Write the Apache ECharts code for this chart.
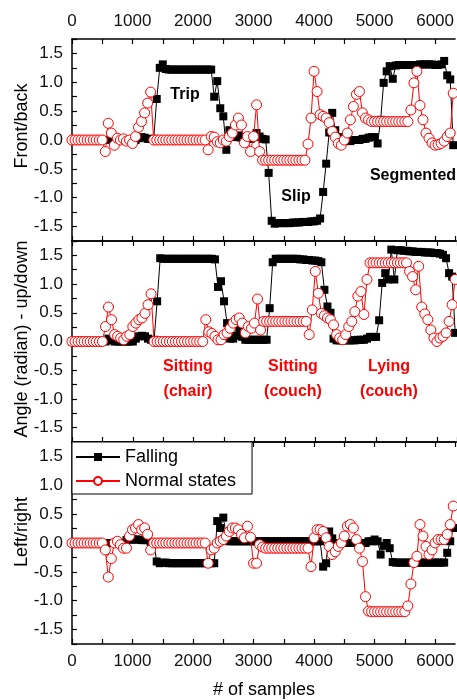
<!DOCTYPE html>
<html><head><meta charset="utf-8">
<script src="https://cdn.jsdelivr.net/npm/echarts@6/dist/echarts.min.js"></script>
<style>html,body{margin:0;padding:0;background:#fff}#c{width:457px;height:700px}</style>
</head><body><div id="c"></div>
<script>
// sample positions (x) at which values were read
const samples = [0,50,100,150,200,250,300,350,400,450,500,550,600,650,700,750,800,850,900,950,
1000,1050,1100,1150,1200,1250,1300,1350,1400,1450,1500,1550,1600,1650,1700,1750,1800,1850,1900,1950,
2000,2050,2100,2150,2200,2250,2300,2350,2400,2450,2500,2550,2600,2650,2700,2750,2800,2850,2900,2950,
3000,3050,3100,3150,3200,3250,3300,3350,3400,3450,3500,3550,3600,3650,3700,3750,3800,3850,3900,3950,
4000,4050,4100,4150,4200,4250,4300,4350,4400,4450,4500,4550,4600,4650,4700,4750,4800,4850,4900,4950,
5000,5050,5100,5150,5200,5250,5300,5350,5400,5450,5500,5550,5600,5650,5700,5750,5800,5850,5900,5950,
6000,6050,6100,6150,6200,6250,6300];

// Front/back
const frontBackFalling = [0,0,0,0,0,0,0,0,0,0, 0,0,0,0,0,0,0,0,0,0,
0,0,0.03,0.05,0.04,0.02,0.02,0.02,0.71,1.25, 1.31,1.23,1.22,1.22,1.22,1.22,1.22,1.22,1.22,1.22,
1.22,1.22,1.22,1.22,1.22,1.22,1.22,0.75,1.02,0.55, 0.41,-0.17,0.17,0.1,0.05,0.08,0.04,0.05,0.03,0.02,
0.05,0.12,0.06,0.02,0.01,-0.57,-1.4,-1.45,-1.44,-1.44, -1.44,-1.44,-1.44,-1.43,-1.43,-1.43,-1.42,-1.42,-1.42,-1.41,
-1.41,-1.4,-1.36,-0.9,-0.41,0.13,0.47,0.17,0.05,0.02, 0,0,-0.02,0,0,0,0.02,0.02,0.04,0.05,
0.05,-0.06,0.35,0.99,1.19,1.28,1.06,1.29,1.3,1.3, 1.3,1.3,1.3,1.3,1.3,1.31,1.31,1.31,1.31,1.31,
1.3,1.3,1.31,1.37,1.12,1.05,-0.09];
const frontBackNormal = [0,0,0,0,0,0,0,0,0,0, 0,-0.2,0.29,0.12,-0.09,0.03,0,0.02,-0.02,0,
-0.06,0.06,0.22,0.32,0.47,0.64,0.83,0,0,0, 0,0,0,0,0,0,0,0,0,0,
0,0,0,0,0,-0.17,0.06,0.05,-0.03,-0.05, 0,-0.02,0.06,0.12,0.26,0.38,0.26,-0.05,0.06,-0.2,
0.06,0.61,-0.2,-0.35,-0.35,-0.35,-0.35,-0.35,-0.35,-0.35, -0.35,-0.35,-0.35,-0.35,-0.35,-0.35,-0.35,-0.35,-0.07,0.38,
1.19,0.84,0.44,0.41,0.38,0.3,0.15,0.05,-0.06,-0.09, 0,0.12,0.35,0.58,0.79,0.84,0.47,0.38,0.35,0.32,
0.32,0.32,0.32,0.32,0.32,0.32,0.32,0.32,0.32,0.32, 0.32,0.32,0.52,0.99,1.19,0.6,0.35,0.12,0.03,-0.05,
-0.09,-0.08,-0.06,-0.02,0.06,0.12,0.81];

// Up/down
const upDownFalling = [0,0,0,0,0,0,0,0,0,0, 0,0,0.05,0.02,0,0,0,0,0,0,
0,0.05,0.09,0.1,0.09,0.05,0.03,0.03,0.7,1.45, 1.44,1.44,1.44,1.44,1.44,1.44,1.44,1.44,1.44,1.44,
1.44,1.44,1.44,1.44,1.44,1.44,1.44,1.43,0.95,1.05, 0.7,0.32,0.05,0.05,0.1,0.2,0.08,0.03,0.03,0.03,
0.03,0.03,0.03,0.03,0.03,0.58,1.38,1.44,1.44,1.44, 1.44,1.44,1.44,1.44,1.44,1.43,1.43,1.42,1.42,1.41,
1.41,1.4,1.38,0.9,0.61,0.5,0.05,0.02,0.02,0.02, 0.02,0.02,0.02,0.02,0.03,0.03,0.03,0.05,0.08,0.08,
0.08,0.37,1.02,1.19,1.08,1.6,1.08,1.59,1.59,1.58, 1.58,1.57,1.57,1.56,1.56,1.56,1.55,1.55,1.55,1.54,
1.54,1.53,1.51,1.45,1.19,1.13,0.15];
const upDownNormal = [0,0,0,0,0,0,0,0,0,0, 0,0.26,0.6,0.38,0.12,0.09,0.06,0.03,0.09,0.12,
0.26,0.32,0.38,0.41,0.49,0.64,0.83,0,0,0, 0,0,0,0,0,0,0,0,0,0,
0,0,0,0,0.38,0.17,0.14,0.09,0.03,0.03, 0.12,0.15,0.23,0.32,0.38,0.41,0.32,0.15,0.26,0.23,
0.32,0.74,0.2,0.35,0.35,0.35,0.35,0.35,0.35,0.35, 0.35,0.35,0.35,0.35,0.35,0.35,0.35,0.35,0.12,0.55,
1.22,0.84,0.49,0.45,0.41,0.38,0.29,0.12,0.06,0.03, 0.12,0.26,0.35,0.52,0.79,0.87,0.47,1.08,1.37,1.37,
1.37,1.37,1.37,1.37,1.37,1.37,1.37,1.37,1.37,1.37, 1.37,1.22,1.13,0.9,1.31,0.6,0.48,0.38,0.2,0.06,
0,0.06,0.09,0.15,0.35,0.64,1.08];

// Left/right
const leftRightFalling = [0,0,0,0,0,0,0,0,0,0, 0,0,0,0,0,0,0,0,0.05,0.06,
0.06,0.06,0.06,0.05,0.05,0.05,0.02,0,-0.32,-0.35, -0.34,-0.34,-0.35,-0.35,-0.35,-0.35,-0.35,-0.35,-0.35,-0.35,
-0.35,-0.35,-0.35,-0.35,-0.35,-0.35,-0.35,-0.35,0.38,0.26, 0.44,0.12,0.03,0.03,0.03,0.03,0.03,0.03,0.03,0.03,
0.03,0.03,0.03,0.03,0.03,0.03,0.03,0.03,0.03,0.03, 0.03,0.03,0.03,0.03,0.03,0.03,0.03,0.03,0.03,0.03,
0.03,0.03,0.03,-0.41,-0.35,0.2,0.08,0,0,0, 0,0,0,0,0,0,0,0,0.03,0.03,
0.06,0.03,-0.2,-0.05,0,-0.09,-0.33,-0.34,-0.34,-0.34, -0.34,-0.34,-0.34,-0.34,-0.34,-0.34,-0.34,-0.34,-0.34,-0.34,
-0.34,-0.34,-0.34,-0.34,-0.17,0.03,0.26];
const leftRightNormal = [0,0,0,0,0,0,0,0,0,0, 0,-0.12,-0.59,-0.27,0,0.03,-0.03,-0.09,-0.09,0.12,
0.23,0.26,0.32,0.23,0.26,0.15,-0.12,0,0,0, 0,0,0,0,0,0,0,0,0,0,
0,0,0,0,0,-0.35,-0.12,-0.09,0,0.03, 0.06,0.12,0.2,0.26,0.26,0.23,0.15,0.09,0.29,0.1,
-0.35,-0.35,-0.03,-0.07,-0.09,-0.09,-0.09,-0.09,-0.09,-0.09, -0.09,-0.09,-0.09,-0.09,-0.09,-0.09,-0.09,-0.09,-0.09,-0.41,
0.09,0.23,0.23,0.2,0.09,-0.06,-0.2,-0.15,-0.06,0, 0.12,0.29,0.32,0.26,0.06,-0.09,-0.32,-0.93,-1.18,-1.19,
-1.19,-1.19,-1.19,-1.19,-1.19,-1.19,-1.19,-1.19,-1.19,-1.19, -1.19,-1.09,-0.71,-0.34,-0.23,0.32,0.12,-0.06,-0.2,-0.12,
0,0.06,0.06,0.06,0.15,0.32,0.64];

const xTickLabels = [0,1000,2000,3000,4000,5000,6000];
const yTickLabels = [-1.5,-1,-0.5,0,0.5,1,1.5];
const panelNames = ['Front/back','Angle (radian) - up/down','Left/right'];
const seriesNames = ['Falling','Normal states'];

const FONT = "'Liberation Sans', Arial, sans-serif";
const grids = [
  {left:72, top:39, width:385, height:202},
  {left:72, top:241, width:385, height:201},
  {left:72, top:442, width:385, height:202}
];
function xAx(g, pos, showLabel){
  return {type:'value', gridIndex:g, position:pos, min:0, max:6330, interval:500,
    axisLine:{show:true, onZero:false, lineStyle:{color:'#000', width:1.5}},
    axisTick:{show:true, inside:true, length:5, lineStyle:{color:'#000', width:1.2}},
    axisLabel:{show:showLabel, fontSize:17, color:'#111', fontFamily:FONT, margin:9, showMaxLabel:false,
      formatter:v => xTickLabels.indexOf(v) >= 0 ? String(v) : ''},
    splitLine:{show:false}};
}
function yAx(g){
  return {type:'value', gridIndex:g, min:-1.75, max:1.75, interval:0.25,
    axisLine:{show:true, onZero:false, lineStyle:{color:'#000', width:1.5}},
    axisTick:{show:true, inside:true, length:5, lineStyle:{color:'#000', width:1.2}},
    axisLabel:{fontSize:17, color:'#111', fontFamily:FONT, margin:9,
      formatter:v => yTickLabels.some(t => Math.abs(t - v) < 1e-6) ? v.toFixed(1) : ''},
    splitLine:{show:false}};
}
const xAxes = [xAx(0,'top',true), xAx(0,'bottom',false), xAx(1,'top',false), xAx(1,'bottom',false), xAx(2,'top',false), xAx(2,'bottom',true)];
const yAxes = [yAx(0), yAx(1), yAx(2)];

function pairs(vals){ return samples.map((x,i) => [x, vals[i]]); }
function blackS(g, vals){
  return {name:seriesNames[0], type:'line', xAxisIndex:g*2, yAxisIndex:g, data:pairs(vals), z:2,
    symbol:'rect', symbolSize:8, showSymbol:true, showAllSymbol:true,
    lineStyle:{color:'#000', width:1}, itemStyle:{color:'#000'}};
}
function redS(g, vals){
  return {name:seriesNames[1], type:'line', xAxisIndex:g*2, yAxisIndex:g, data:pairs(vals), z:3,
    symbol:'circle', symbolSize:10, showSymbol:true, showAllSymbol:true,
    lineStyle:{color:'#ff0000', width:1}, itemStyle:{color:'#fff', borderColor:'#ff0000', borderWidth:1}};
}
const series = [
  blackS(0, frontBackFalling), redS(0, frontBackNormal),
  blackS(1, upDownFalling), redS(1, upDownNormal),
  blackS(2, leftRightFalling), redS(2, leftRightNormal)
];

function txt(x, y, s, opts){
  return Object.assign({type:'text', x:x, y:y, z:20, style:Object.assign({text:s, fontFamily:FONT, fontSize:16, fontWeight:'bold', fill:'#000', align:'center', verticalAlign:'middle'}, opts||{})});
}
const graphics = [
  txt(185, 95, 'Trip'), txt(296, 197, 'Slip'), txt(413, 176, 'Segmented'),
  txt(188, 367, 'Sitting', {fill:'#ff0000'}), txt(188, 392, '(chair)', {fill:'#ff0000'}),
  txt(293, 367, 'Sitting', {fill:'#ff0000'}), txt(293, 392, '(couch)', {fill:'#ff0000'}),
  txt(389, 367, 'Lying', {fill:'#ff0000'}), txt(389, 392, '(couch)', {fill:'#ff0000'}),
  txt(264, 690, '# of samples', {fontWeight:'normal', fontSize:18}),
  {type:'text', x:22, y:126, rotation:Math.PI/2, z:20, style:{text:panelNames[0], fontFamily:FONT, fontSize:18, fill:'#000', align:'center', verticalAlign:'middle'}},
  {type:'text', x:22, y:339, rotation:Math.PI/2, z:20, style:{text:panelNames[1], fontFamily:FONT, fontSize:18, fill:'#000', align:'center', verticalAlign:'middle'}},
  {type:'text', x:22, y:532, rotation:Math.PI/2, z:20, style:{text:panelNames[2], fontFamily:FONT, fontSize:18, fill:'#000', align:'center', verticalAlign:'middle'}}
];

const chart = echarts.init(document.getElementById('c'), null, {renderer:'canvas'});
chart.setOption({
  animation:false,
  backgroundColor:'#fff',
  grid:grids,
  xAxis:xAxes,
  yAxis:yAxes,
  series:series,
  legend:{data:seriesNames, left:72, top:442, orient:'vertical', itemWidth:44, itemHeight:10, itemGap:6,
    padding:[6,16,4,3], borderColor:'#000', borderWidth:1, borderRadius:0, backgroundColor:'#fff', z:10,
    textStyle:{fontSize:18, color:'#000', fontFamily:FONT}},
  graphic:graphics
});
</script></body></html>
